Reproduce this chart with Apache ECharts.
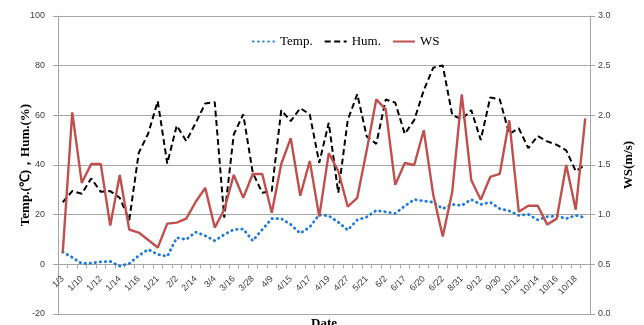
<!DOCTYPE html>
<html>
<head>
<meta charset="utf-8">
<script src="https://cdn.jsdelivr.net/npm/echarts@6/dist/echarts.min.js"></script>
<style>
html,body{margin:0;padding:0;background:#fff;}
#chart_main{width:644px;height:325px;}
</style>
</head>
<body>
<div id="chart_main"></div>
<script>
// 日期标签（每隔一个显示，中间的类目没有标签）
var shownDates = ['1/3','1/10','1/12','1/14','1/16','1/21','2/2','2/14','3/4','3/16','3/28','4/9','4/15','4/17',
    '4/19','4/27','5/21','6/2','6/17','6/20','6/22','8/31','9/12','9/30','10/12','10/14','10/16','10/18'];
var categoryCount = 56;

var tempData = [5, 2.8, 0.3, 0.5, 1, 1.2, -0.7, 0.3, 3.5, 6, 4, 3.2, 10.7, 10, 13, 11.5, 9.5, 12, 14, 14.2,
    9.5, 14, 18.4, 18.4, 16, 12.5, 15, 20, 19.5, 17, 13.8, 17.9, 19.1, 21.7, 21.1, 20.5, 23.5, 26.1, 25.5, 25,
    22.4, 24.1, 23.7, 26.1, 24.1, 25, 22.4, 21.5, 19.7, 20.1, 17.9, 19.2, 19.5, 18.4, 19.7, 18.8];
var humData = [25, 29.5, 28.4, 34.6, 29.2, 29.5, 26.8, 17.8, 44.9, 52.7, 65.7, 40.6, 55.9, 49.6, 57, 64.8, 65.3, 18.8, 52.3, 60.4,
    36.9, 28.8, 29.5, 62.1, 57.7, 62.9, 60.4, 40.9, 57, 28.8, 58.1, 68.5, 51.5, 48.5, 66.4, 65.1, 52.5, 58.1, 70.1, 79.2,
    80.1, 60.1, 58.4, 62.1, 50.1, 67.2, 66.4, 52.5, 54.8, 46.8, 51.7, 49.5, 48.1, 45.9, 37.5, 40.1];
var wsData = [0.62, 2.03, 1.32, 1.51, 1.51, 0.89, 1.40, 0.85, 0.82, 0.745, 0.67, 0.91, 0.92, 0.96, 1.13, 1.27, 0.87, 1.05, 1.40, 1.17,
    1.41, 1.41, 1.02, 1.51, 1.77, 1.19, 1.54, 0.98, 1.62, 1.44, 1.08, 1.17, 1.65, 2.16, 2.06, 1.30, 1.52, 1.50, 1.85, 1.2,
    0.78, 1.23, 2.21, 1.35, 1.15, 1.38, 1.41, 1.95, 1.03, 1.09, 1.09, 0.90, 0.96, 1.50, 1.05, 1.97];

var leftTicks = {min: -20, max: 100, interval: 20};
var rightTicks = {min: 0, max: 3, interval: 0.5};

var categories = [];
for (var i = 0; i < categoryCount; i++) {
    categories.push(i % 2 == 0 ? shownDates[i / 2] : '');
}

var myChart_main = echarts.init(document.getElementById('chart_main'));
var gridColor = '#a6a6a6';
var labelFont = {fontFamily: 'Liberation Sans', fontSize: 9, color: '#404040'};
var gridTop = 16, gridBottom = 11, chartHeight = 325;
// x轴放在左轴0的位置（v6 的 onZero 不带标签，所以用 offset 往上移）
var plotHeight = chartHeight - gridTop - gridBottom;
var zeroOffset = -plotHeight * (0 - leftTicks.min) / (leftTicks.max - leftTicks.min);

var option = {
    animation: false,
    backgroundColor: '#fff',
    grid: {left: 58, right: 54, top: gridTop, bottom: gridBottom, outerBoundsMode: 'none', containLabel: false},
    legend: {
        top: 30,
        left: 247,
        itemWidth: 22,
        itemHeight: 10,
        itemGap: 11,
        itemStyle: {opacity: 0},
        textStyle: {fontFamily: 'Liberation Serif', fontSize: 13, color: '#000'},
        data: ['Temp.', 'Hum.', 'WS']
    },
    graphic: [{
        type: 'text',
        left: 311,
        top: 317,
        style: {text: 'Date', font: 'bold 13px "Liberation Serif"', fill: '#000'}
    }],
    xAxis: {
        type: 'category',
        data: categories,
        boundaryGap: true,
        position: 'bottom',
        offset: zeroOffset,
        axisLine: {onZero: false, lineStyle: {color: gridColor, width: 1}},
        axisTick: {show: true, interval: 0, length: 4, lineStyle: {color: gridColor}},
        axisLabel: {
            interval: 1,
            rotate: 45,
            margin: 13,
            fontFamily: 'Liberation Sans',
            fontSize: 9,
            color: '#404040'
        },
        splitLine: {show: false}
    },
    yAxis: [{
        type: 'value',
        min: leftTicks.min,
        max: leftTicks.max,
        interval: leftTicks.interval,
        name: 'Temp.(℃)，Hum.(%)',
        nameLocation: 'middle',
        nameRotate: 90,
        nameGap: 26,
        nameMoveOverlap: false,
        nameTextStyle: {fontFamily: 'Liberation Serif', fontWeight: 'bold', fontSize: 13, color: '#000'},
        axisLine: {show: true, onZero: false, lineStyle: {color: gridColor}},
        axisTick: {show: true, length: 5, lineStyle: {color: gridColor}},
        axisLabel: Object.assign({margin: 13}, labelFont),
        splitLine: {show: true, lineStyle: {color: gridColor, width: 1}}
    }, {
        type: 'value',
        position: 'right',
        min: rightTicks.min,
        max: rightTicks.max,
        interval: rightTicks.interval,
        name: 'WS(m/s)',
        nameLocation: 'middle',
        nameRotate: 90,
        nameGap: 32,
        nameMoveOverlap: false,
        nameTextStyle: {fontFamily: 'Liberation Serif', fontWeight: 'bold', fontSize: 13, color: '#000'},
        axisLine: {show: true, onZero: false, lineStyle: {color: gridColor}},
        axisTick: {show: true, length: 5, lineStyle: {color: gridColor}},
        axisLabel: Object.assign({
            margin: 8,
            formatter: function (v) { return v.toFixed(1); }
        }, labelFont),
        splitLine: {show: false}
    }],
    series: [{
        name: 'Temp.',
        type: 'line',
        data: tempData,
        showSymbol: false,
        symbol: 'none',
        smooth: false,
        lineStyle: {color: '#1F7BD6', width: 2.8, type: [0.5, 4.6], cap: 'round'},
        itemStyle: {color: '#1F7BD6'}
    }, {
        name: 'Hum.',
        type: 'line',
        data: humData,
        showSymbol: false,
        symbol: 'none',
        lineStyle: {color: '#000', width: 2, type: [6, 3.5]},
        itemStyle: {color: '#000'}
    }, {
        name: 'WS',
        type: 'line',
        yAxisIndex: 1,
        data: wsData,
        showSymbol: false,
        symbol: 'none',
        lineStyle: {color: '#C0504D', width: 2.4},
        itemStyle: {color: '#C0504D'}
    }]
};
myChart_main.setOption(option, true);
</script>
</body>
</html>
